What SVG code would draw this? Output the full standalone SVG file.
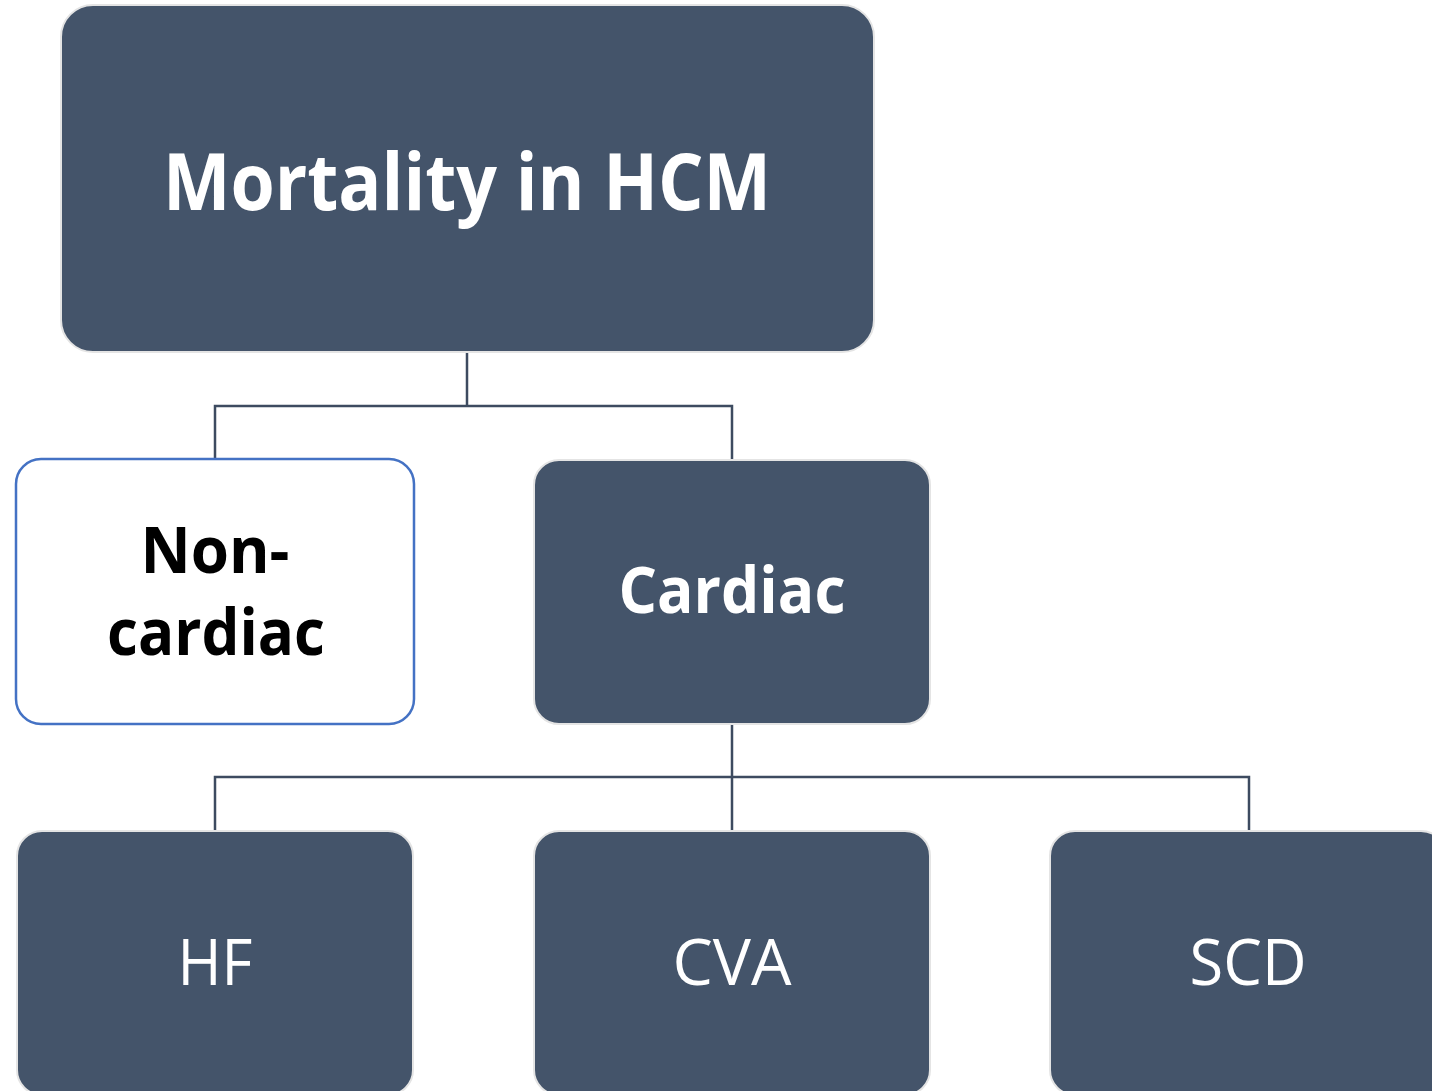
<svg xmlns="http://www.w3.org/2000/svg" width="1432" height="1091" viewBox="0 0 1432 1091">
<style>
.dark{fill:#44546A;stroke:#E4E4E4;stroke-width:2}
.light{fill:#FFFFFF;stroke:#4472C4;stroke-width:2.5}
.conn{fill:none;stroke:#3D4B60;stroke-width:2.5}
.t{font-family:"Open Sans","Liberation Sans",sans-serif;text-anchor:middle}
.w{fill:#FFFFFF}
.b{font-weight:bold}
</style>
<rect width="1432" height="1091" fill="#FFFFFF"/>
<g id="connectors">
<path class="conn" d="M467,352 V406 M215,458 V406 H732 V459"/>
<path class="conn" d="M732,724 V830 M215,830 V777 H1249 V830"/>
</g>
<g id="node-mortality">
<rect class="dark" x="61" y="5" width="813" height="347" rx="32"/>
<text class="t w b" x="467" y="210" font-size="78" textLength="608" lengthAdjust="spacingAndGlyphs">Mortality in HCM</text>
</g>
<g id="node-noncardiac">
<rect class="light" x="16" y="459" width="398" height="265" rx="25"/>
<text class="t b" x="215" y="573" font-size="64" fill="#000000" textLength="149" lengthAdjust="spacingAndGlyphs">Non-</text>
<text class="t b" x="216" y="655" font-size="64" fill="#000000" textLength="218" lengthAdjust="spacingAndGlyphs">cardiac</text>
</g>
<g id="node-cardiac">
<rect class="dark" x="534" y="460" width="396" height="264" rx="25"/>
<text class="t w b" x="732" y="613" font-size="64" textLength="227" lengthAdjust="spacingAndGlyphs">Cardiac</text>
</g>
<g id="node-hf">
<rect class="dark" x="17" y="831" width="396" height="264" rx="25"/>
<text class="t w" x="215" y="985" font-size="64" textLength="75" lengthAdjust="spacingAndGlyphs">HF</text>
</g>
<g id="node-cva">
<rect class="dark" x="534" y="831" width="396" height="264" rx="25"/>
<text class="t w" x="732" y="985" font-size="64" textLength="119" lengthAdjust="spacingAndGlyphs">CVA</text>
</g>
<g id="node-scd">
<rect class="dark" x="1050" y="831" width="396" height="264" rx="25"/>
<text class="t w" x="1248" y="985" font-size="64" textLength="117" lengthAdjust="spacingAndGlyphs">SCD</text>
</g>
</svg>
